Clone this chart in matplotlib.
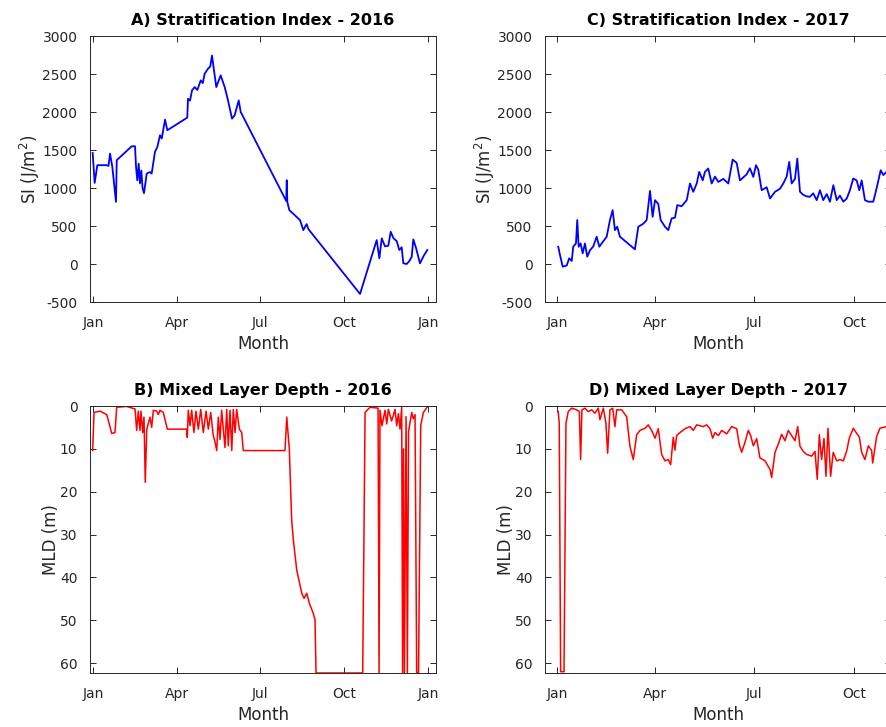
"""Stratification index and mixed layer depth, 2016 vs 2017 (2x2 panels)."""

import matplotlib.pyplot as plt

plt.rcParams["font.family"] = ["DejaVu Sans"]
plt.rcParams["axes.unicode_minus"] = False

# day of year (0 = 1 Jan) and values
si16_day = [-0.7, 1.5, 4.4, 14.6, 16.6, 18.3, 20.8, 24.8, 25.6, 42, 45.6, 46.7, 48.1, 49.6,
            51, 52.5, 53.8, 55.4, 58.4, 62, 63.8, 67.4, 70, 72.9, 74.8, 78.4, 80.9, 102.7,
            103.5, 105.7, 107.9, 110.8, 113.7, 117.4, 119.6, 121.7, 125.4, 127.9, 129.7,
            134.4, 139.2, 143.6, 147.2, 151.6, 154.5, 158.9, 161.1, 210.8, 211.4, 212,
            214.2, 225.9, 229.5, 231.9, 233.2, 235, 291.5, 309.7, 312.6, 315.2, 318.8,
            322.4, 325, 327.9, 331.6, 334.4, 337, 338.8, 342.5, 345.4, 348, 349.7, 352.7,
            357, 360.7, 365]
si16_val = [1461, 1067, 1300, 1300, 1290, 1453, 1278, 818, 1366, 1549, 1549, 1278, 1100,
            1320, 1060, 1230, 1000, 932, 1190, 1210, 1190, 1475, 1540, 1694, 1650, 1900,
            1760, 1926, 2175, 2150, 2285, 2328, 2290, 2416, 2380, 2504, 2570, 2600, 2744,
            2328, 2482, 2328, 2153, 1913, 1957, 2153, 2000, 830, 1103, 818, 709, 578, 446,
            500, 525, 460, -394, 315, 75, 337, 232, 240, 424, 341, 300, 184, 220, 9, 0, 40,
            96, 324, 210, 9, 100, 184]

si17_day = [0.9, 2.5, 5, 8.7, 11, 13.3, 14.7, 17.2, 18.4, 19.7, 21.5, 23.4, 25.5, 27.6,
            30.1, 33.1, 36.3, 38.7, 42.4, 45.5, 48.5, 51, 53.1, 55.2, 57.7, 71.5, 74.6,
            79.2, 82.3, 85.4, 87.8, 90, 93, 95.2, 99.2, 102.2, 105.3, 108.4, 110.5, 114.5,
            119.2, 122.2, 125.2, 128.4, 130.7, 133.9, 136, 139, 142.2, 145.2, 148.3, 152.9,
            157.5, 161.5, 165.2, 168.2, 171.3, 174.4, 177.4, 180.5, 183, 185.1, 188.2,
            192.8, 195.9, 200.5, 205.1, 208.1, 211.2, 213.6, 215.8, 218.9, 221, 223.5,
            226.5, 229.6, 232.6, 235.7, 238.9, 241.9, 244.9, 248.1, 251.1, 254.2, 257.3,
            260.3, 263.4, 266.5, 269.5, 272.5, 275.7, 278.1, 280.3, 283.3, 286.4, 291,
            294.1, 297.8, 300.2, 303.3, 306.4]
si17_val = [227, 118, -35, -20, 75, 40, 227, 270, 578, 227, 270, 140, 270, 96, 180, 230,
            359, 227, 300, 359, 578, 709, 446, 490, 359, 193, 490, 530, 578, 962, 620, 840,
            790, 578, 490, 446, 600, 610, 775, 760, 840, 1059, 950, 1059, 1212, 1100, 1212,
            1256, 1059, 1150, 1080, 1120, 1059, 1374, 1330, 1100, 1140, 1180, 1260, 1146,
            1300, 1240, 971, 1010, 862, 950, 990, 1059, 1150, 1343, 1060, 1120, 1387, 950,
            910, 890, 884, 930, 840, 971, 840, 920, 820, 1037, 840, 900, 820, 860, 971,
            1125, 1100, 971, 1100, 840, 820, 820, 1000, 1234, 1170, 1215, 1200]

mld16_day = [-0.7, 0.8, 7.3, 14.6, 17.5, 20.1, 23.7, 25.6, 36.5, 45.6, 47.4, 49.2, 51,
             52.1, 54, 55.4, 56.8, 58.4, 62, 63.8, 65.6, 69.3, 71, 72.9, 76.5, 80.9, 102.1,
             102.7, 103.8, 105.7, 107.5, 110, 112.2, 114.8, 117.4, 120.2, 123.2, 125.7,
             128.3, 131.1, 133, 134.9, 136.6, 138.5, 140.3, 142.1, 143.9, 145.8, 147.5,
             149.4, 151.3, 153, 154.9, 156.7, 159.6, 162.2, 163.9, 209.5, 211.4, 214.2,
             216.8, 218.6, 222.3, 227.8, 230.3, 233.2, 236.1, 240.4, 242.3, 243.4, 294.4,
             297, 302.4, 311.2, 312.3, 313.3, 315.5, 318.8, 320.7, 322.4, 326, 329.7,
             331.6, 333.4, 335.2, 337, 338, 339, 340, 341.8, 343.2, 344.5, 346, 348, 349.7,
             351.6, 353.4, 355.4, 357.8, 360.7, 365]
mld16_val = [10.4, 1.5, 1.2, 2, 4.2, 6.4, 6.2, 0.3, 0.1, 0.7, 5.7, 1.2, 5.7, 1.2, 6.2,
             2.6, 17.8, 5.5, 2.6, 5, 1, 1.2, 2, 1, 1.5, 5.4, 5.4, 7.3, 1, 4.6, 1, 6.2, 1.2,
             5.4, 0.8, 6.2, 1.2, 5.4, 1.5, 6.9, 8.4, 10.4, 2.6, 7.8, 1, 5.4, 9.7, 0.8, 9.3,
             1, 10.4, 0.8, 6.2, 0.8, 5.4, 6.2, 10.4, 10.4, 2.6, 10, 26.7, 31.2, 38.3, 43.7,
             44.9, 43.7, 46, 48.4, 49.9, 62.3, 62.3, 1.5, 0.3, 0.5, 62.3, 1.0, 4.6, 1.0, 4.2,
             0.8, 3.5, 0.8, 4.6, 1.8, 5.4, 0.3, 62.3, 10, 62.3, 2.5, 62.3, 6, 4, 1.5, 3, 2,
             62.3, 62.3, 4.6, 1.5, 0.2]

mld17_day = [0.9, 1.8, 3.1, 6.2, 8, 10.1, 13.3, 17.9, 20.3, 21.5, 22.7, 25.5, 28.5, 31.7,
             34.7, 37.8, 39.3, 42.4, 44.8, 46.4, 48.5, 51, 53.1, 54.7, 59.3, 63.9, 66.9, 70,
             73.1, 76.2, 80.8, 83.8, 86.9, 90, 93, 96.1, 99.2, 102.2, 104.4, 106.8, 108.4,
             109.9, 113, 117.6, 122.2, 125.2, 128.4, 134.4, 137.6, 140.6, 143.1, 145.2,
             148.3, 151.4, 156, 160.6, 165.2, 167.6, 169.8, 172.8, 175.9, 178.1, 180.5,
             183.6, 186.6, 191.3, 195.9, 197.4, 200.5, 203.5, 206.6, 209.7, 212.7, 215.8,
             218.9, 221.4, 223.5, 226.5, 229.6, 234.3, 237.3, 239.4, 241.3, 243.4, 245.6,
             247.4, 249.3, 251.7, 254.1, 257.3, 260.3, 263.4, 266.5, 268.9, 272.6, 275.7,
             278.1, 280.3, 283.3, 286.4, 289.5, 290.4, 294.1, 297.1, 303.3, 306.4]
mld17_val = [1.3, 4, 62, 62, 4, 1.3, 0.5, 0.9, 1.3, 12.5, 0.9, 0.5, 1.3, 0.9, 1.7, 0.5, 3.2,
             0.5, 4, 11, 0.9, 0.5, 4.8, 0.9, 0.9, 2.5, 9.4, 12.5, 6.7, 5.7, 5.2, 4.4, 5.7,
             7.5, 5.3, 11.3, 12.8, 12.5, 13.7, 7.3, 10.3, 6.9, 6.2, 5.3, 4.8, 5.7, 4.4, 4.8,
             4.4, 5.3, 7.5, 6.2, 6.9, 5.7, 6.5, 4.8, 5.3, 9, 10.8, 8.5, 5.7, 6.9, 9.3, 7.6,
             12.1, 12.8, 14.8, 16.7, 10.8, 8.9, 6.6, 8.1, 5.7, 6.9, 8.1, 4.8, 9.4, 10.6,
             11.3, 11.7, 10.6, 17.1, 6.7, 12.5, 7.6, 16.4, 5.2, 16.4, 10.8, 12.8, 12.5, 12.8,
             10.5, 7.5, 5.2, 6.4, 7.2, 10.8, 12.5, 9.3, 10.4, 13.3, 7.1, 5.2, 4.8, 5]

ticks16 = [0, 91, 182, 274, 366]
labels16 = ["Jan", "Apr", "Jul", "Oct", "Jan"]
ticks17 = [0, 90, 181, 273]
labels17 = ["Jan", "Apr", "Jul", "Oct"]

W, H = 887, 727
INK = "#262626"


def panel(left, top, right, bottom):
    return fig.add_axes([left / W, 1 - bottom / H, (right - left) / W, (bottom - top) / H])


def style(ax, title, ylabel, xticks, xlabels, xlim):
    ax.set_title(title, fontsize=11.5, fontweight="bold", pad=8)
    ax.set_xlabel("Month", fontsize=12, color=INK, labelpad=4)
    ax.set_ylabel(ylabel, fontsize=12, color=INK, labelpad=0)
    ax.set_xticks(xticks)
    ax.set_xticklabels(xlabels)
    ax.set_xlim(*xlim)
    ax.tick_params(direction="in", top=True, right=True, length=4, width=0.7,
                   colors=INK, labelsize=10, pad=9)
    ax.tick_params(axis="x", pad=10)
    for sp in ax.spines.values():
        sp.set_color(INK)
        sp.set_linewidth(0.7)


fig = plt.figure(figsize=(W / 100, H / 100), dpi=100)

ax_a = panel(90, 36, 436, 302)
ax_a.plot(si16_day, si16_val, color="blue", lw=1.3)
ax_a.set_ylim(-500, 3000)
ax_a.set_yticks(range(-500, 3001, 500))
style(ax_a, "A) Stratification Index - 2016", "SI (J/m$^2$)", ticks16, labels16, (-3.6, 374.5))

ax_c = panel(545, 36, 891, 302)
ax_c.plot(si17_day, si17_val, color="blue", lw=1.3)
ax_c.set_ylim(-500, 3000)
ax_c.set_yticks(range(-500, 3001, 500))
style(ax_c, "C) Stratification Index - 2017", "SI (J/m$^2$)", ticks17, labels17, (-11.3, 307.3))

ax_b = panel(90, 406, 436, 673)
ax_b.plot(mld16_day, mld16_val, color="red", lw=1.1)
ax_b.set_ylim(62.3, 0)
ax_b.set_yticks(range(0, 61, 10))
style(ax_b, "B) Mixed Layer Depth - 2016", "MLD (m)", ticks16, labels16, (-3.6, 374.5))

ax_d = panel(545, 406, 891, 673)
ax_d.plot(mld17_day, mld17_val, color="red", lw=1.1)
ax_d.set_ylim(62.3, 0)
ax_d.set_yticks(range(0, 61, 10))
style(ax_d, "D) Mixed Layer Depth - 2017", "MLD (m)", ticks17, labels17, (-11.3, 307.3))

fig.savefig("out.png", dpi=100)
plt.close(fig)
